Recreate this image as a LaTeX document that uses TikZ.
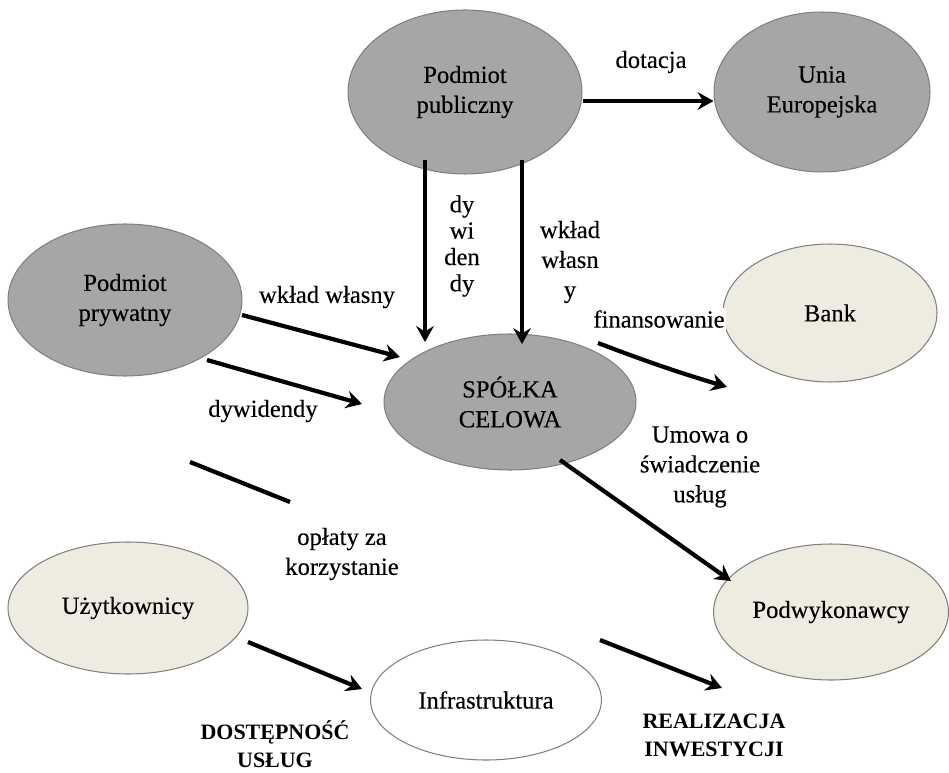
\documentclass[tikz,border=0pt]{standalone}
\usepackage{fontspec}
\setmainfont{Liberation Serif}
\usetikzlibrary{arrows.meta,shapes.geometric}

\definecolor{cellgray}{RGB}{166,166,166}
\definecolor{cellbeige}{RGB}{238,236,225}
\definecolor{cellborder}{RGB}{128,128,128}

\tikzset{
	ellgray/.style={ellipse,draw=cellborder,fill=cellgray,line width=0.6pt,inner sep=0pt,align=center},
	ellbeige/.style={ellipse,draw=cellborder,fill=cellbeige,line width=0.6pt,inner sep=0pt,align=center},
	ellwhite/.style={ellipse,draw=cellborder,fill=white,line width=0.6pt,inner sep=0pt,align=center},
	flow/.style={line width=2.4pt,-{Stealth[length=9pt,width=10pt,inset=3pt]}},
	lbl/.style={align=center,inner sep=1pt},
	bigbold/.style={lbl,font=\fontsize{12.5}{16}\selectfont\bfseries},
}

\begin{document}
\begin{tikzpicture}[x=0.02cm,y=-0.02cm,font=\fontsize{14}{17}\selectfont\addfontfeature{FakeBold=0.3}]
	\useasboundingbox (0,0) rectangle (949,773);

	\node [ellgray,minimum width=4.68cm,minimum height=3.28cm] (pub) at (465,92) {Podmiot\\publiczny};
	\node [ellgray,minimum width=4.32cm,minimum height=3.2cm] (ue) at (822,92) {Unia\\Europejska};
	\node [ellgray,minimum width=4.68cm,minimum height=3.04cm] (priv) at (125,300) {Podmiot\\prywatny};
	\node [ellbeige,minimum width=4.28cm,minimum height=2.76cm] (bank) at (830,313) {Bank};
	\node [ellgray,minimum width=5.04cm,minimum height=2.72cm] (spv) at (510,402) {SPÓŁKA\\CELOWA};
	\node [ellbeige,minimum width=4.7cm,minimum height=2.72cm] (sub) at (831,612) {Podwykonawcy};
	\node [ellbeige,minimum width=4.8cm,minimum height=2.64cm] (users) at (128,608) {Użytkownicy};
	\node [ellwhite,minimum width=4.62cm,minimum height=2.4cm] (infra) at (486,700) {Infrastruktura};

	\coordinate (dotA) at (583,101);
	\draw [flow] (dotA) -- (ue.west |- dotA);
	\node [lbl] (ldot) at (651,62) {dotacja};

	\coordinate (divA) at (425,160);
	\coordinate (divB) at (425,342);
	\draw [flow] (divA) -- (divB);
	\node [lbl] (ldiv) at (462,246) {dy\\[-2pt]wi\\[-2pt]den\\[-2pt]dy};

	\coordinate (ownA) at (522,160);
	\coordinate (ownB) at (522,344);
	\draw [flow] (ownA) -- (ownB);
	\node [lbl] (lown) at (570,262) {wkład\\własn\\y};

	\coordinate (prA) at (242,315);
	\coordinate (prB) at (400,357);
	\draw [flow] (prA) -- (prB);
	\node [lbl] (lpr) at (327,297) {wkład własny};

	\coordinate (dvA) at (207,360);
	\coordinate (dvB) at (362,404);
	\draw [flow] (dvA) -- (dvB);
	\node [lbl] (ldv) at (263,411) {dywidendy};

	\coordinate (finA) at (598,343);
	\coordinate (finB) at (727,387);
	\draw [flow] (finA) to[bend right=2] (finB);
	\node [lbl,fill=white] (lfin) at (659,319) {finansowanie};

	\coordinate (umA) at (560,460);
	\coordinate (umB) at (731,581);
	\draw [flow] (umA) -- (umB);
	\node [lbl] (lum) at (700,467) {Umowa o\\świadczenie\\usług};

	\coordinate (feeA) at (190,462);
	\coordinate (feeB) at (290,502);
	\draw [line width=2.4pt] (feeA) -- (feeB);
	\node [lbl] (lfee) at (342,554) {opłaty za\\korzystanie};

	\coordinate (usA) at (248,642);
	\coordinate (usB) at (362,689);
	\draw [flow] (usA) -- (usB);

	\coordinate (reA) at (600,640);
	\coordinate (reB) at (722,688);
	\draw [flow] (reA) -- (reB);

	\node [bigbold] (lacc) at (275,744) {DOSTĘPNOŚĆ\\USŁUG};
	\node [bigbold] (lreal) at (714,735) {REALIZACJA\\INWESTYCJI};
\end{tikzpicture}
\end{document}
